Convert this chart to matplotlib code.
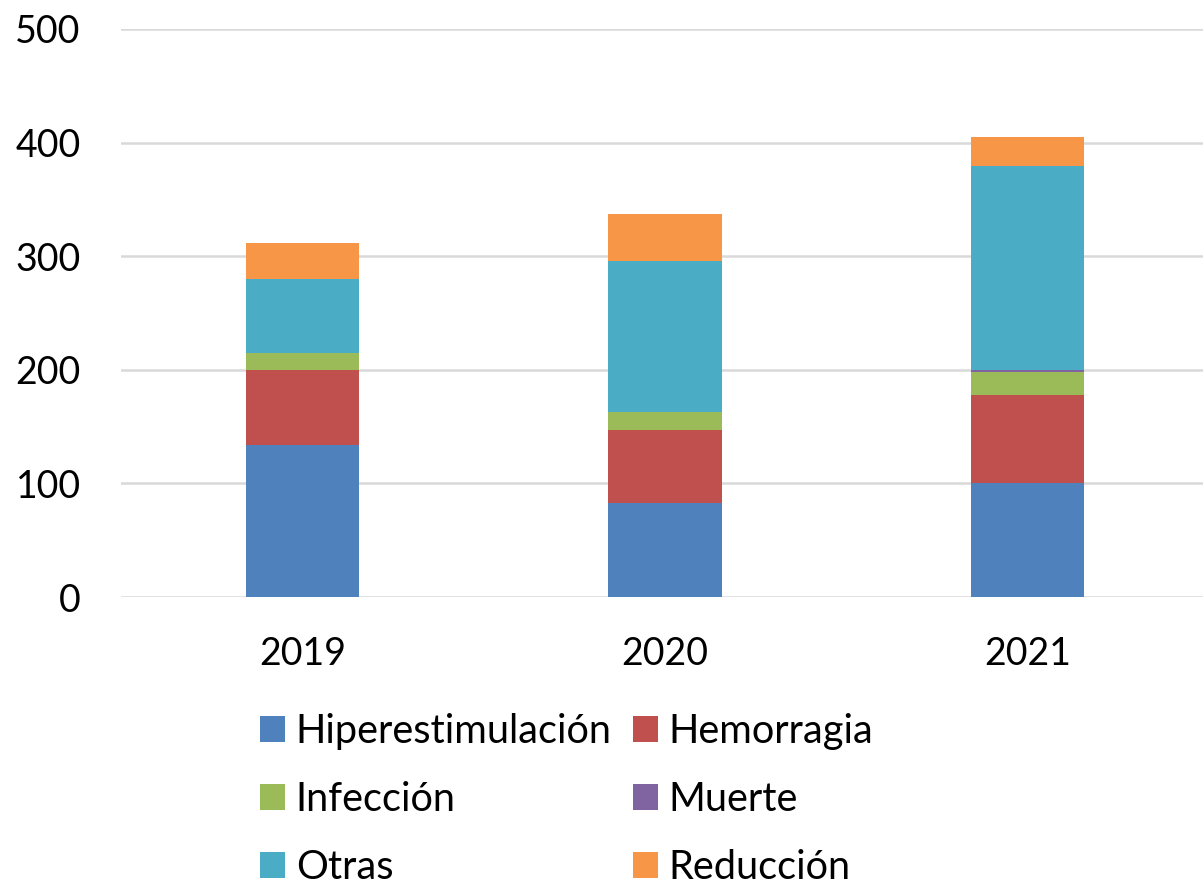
import matplotlib.pyplot as plt
import numpy as np

years = ["2019", "2020", "2021"]
series_names = ["Hiperestimulación", "Hemorragia", "Infección", "Muerte", "Otras", "Reducción"]
hiperestimulacion = [134, 83, 100]
hemorragia = [66, 64, 78]
infeccion = [15, 16, 20]
muerte = [0, 0, 2]
otras = [65, 133, 179]
reduccion = [32, 41, 26]
colors = ["#4F81BD", "#C0504D", "#9BBB59", "#8064A2", "#4BACC6", "#F79646"]

plt.rcParams['font.family'] = ['Lato', 'DejaVu Sans']

W, H = 1203, 881
fig = plt.figure(figsize=(W / 100, H / 100), dpi=100)
ax = fig.add_axes([121 / W, 1 - 597 / H, (1209 - 121) / W, (597 - 29) / H])

x = np.arange(len(years))
bottom = np.zeros(len(years))
handles = []
for name, vals, col in zip(series_names,
                           [hiperestimulacion, hemorragia, infeccion, muerte, otras, reduccion],
                           colors):
    b = ax.bar(x, vals, 0.313, bottom=bottom, color=col, label=name, zorder=3)
    handles.append(b)
    bottom += np.array(vals)

ax.set_xlim(-0.5, 2.5)
ax.set_ylim(0, 500)
ax.set_yticks(range(0, 501, 100))
ax.set_xticks(x)
ax.set_xticklabels(years)
ax.yaxis.grid(True, color="#D9D9D9", linewidth=1.8, zorder=0)
for s in ax.spines.values():
    s.set_visible(False)
ax.tick_params(axis="both", length=0, labelsize=27, labelcolor="black")
ax.tick_params(axis="y", pad=29)
ax.tick_params(axis="x", pad=28)

# legend: two columns placed separately
leg_kw = dict(loc="upper left", frameon=False, fontsize=28.6, handlelength=0.62,
              handleheight=0.62, handletextpad=0.28, labelspacing=0.78,
              borderaxespad=0, borderpad=0)
fig.legend([handles[i] for i in (0, 2, 4)], [series_names[i] for i in (0, 2, 4)],
           bbox_to_anchor=(260 / W, 1 - 713 / H), **leg_kw)
fig.legend([handles[i] for i in (1, 3, 5)], [series_names[i] for i in (1, 3, 5)],
           bbox_to_anchor=(633 / W, 1 - 713 / H), **leg_kw)

fig.savefig("out.png", dpi=100)
